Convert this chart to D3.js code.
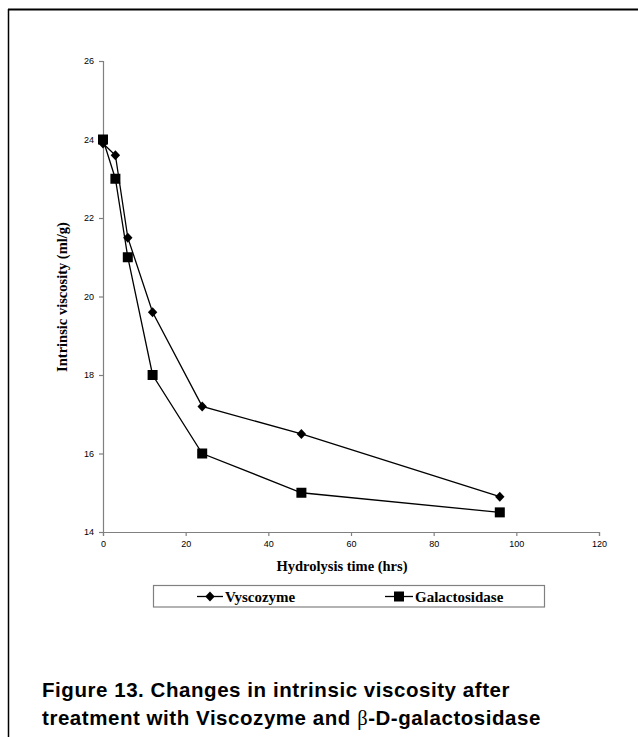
<!DOCTYPE html>
<html><head><meta charset="utf-8">
<script src="https://cdn.jsdelivr.net/npm/d3@7"></script>
<style>body{margin:0;background:#fff}svg{display:block}</style>
</head><body>
<script>
const hours = [0, 3, 6, 12, 24, 48, 96];
const vyscozyme = [23.9, 23.6, 21.5, 19.6, 17.2, 16.5, 14.9];
const galactosidase = [24.0, 23.0, 21.0, 18.0, 16.0, 15.0, 14.5];
const xTicks = [0, 20, 40, 60, 80, 100, 120];
const yTicks = [14, 16, 18, 20, 22, 24, 26];
const seriesNames = ["Vyscozyme", "Galactosidase"];

const W = 638, H = 737;
const svg = d3.select("body").append("svg").attr("width", W).attr("height", H);

// page frame
svg.append("line").attr("x1", 8).attr("x2", W).attr("y1", 9.5).attr("y2", 9.5).attr("stroke", "#000").attr("stroke-width", 2);
svg.append("line").attr("x1", 8.5).attr("x2", 8.5).attr("y1", 9).attr("y2", H).attr("stroke", "#000").attr("stroke-width", 1.5);

const x = d3.scaleLinear().domain([0, 120]).range([103, 599]);
const y = d3.scaleLinear().domain([14, 26]).range([532, 61]);

const xAxis = svg.append("g").attr("transform", "translate(0,532)")
  .call(d3.axisBottom(x).tickValues(xTicks).tickSize(4).tickPadding(5));
const yAxis = svg.append("g").attr("transform", "translate(103,0)")
  .call(d3.axisLeft(y).tickValues(yTicks).tickSize(4).tickPadding(5));
[xAxis, yAxis].forEach(a => {
  a.select(".domain").attr("stroke", "#808080").attr("stroke-width", 1.2);
  a.selectAll(".tick line").attr("stroke", "#808080").attr("stroke-width", 1.2);
  a.selectAll(".tick text").attr("font-family", "Liberation Sans, Arial, sans-serif").attr("font-size", 9).attr("fill", "#000");
});

const line = d3.line().x(d => x(d[0])).y(d => y(d[1]));
const vData = hours.map((h, i) => [h, vyscozyme[i]]);
const gData = hours.map((h, i) => [h, galactosidase[i]]);

svg.append("path").datum(vData).attr("d", line).attr("fill", "none").attr("stroke", "#000").attr("stroke-width", 1.3);
svg.append("path").datum(gData).attr("d", line).attr("fill", "none").attr("stroke", "#000").attr("stroke-width", 1.3);

const dpath = "M0,-5L4.7,0L0,5L-4.7,0Z";
svg.selectAll(".vm").data(vData).enter().append("path")
  .attr("d", dpath).attr("transform", d => `translate(${x(d[0])},${y(d[1])})`).attr("fill", "#000");
svg.selectAll(".gm").data(gData).enter().append("rect")
  .attr("x", d => x(d[0]) - 5).attr("y", d => y(d[1]) - 5).attr("width", 10).attr("height", 10).attr("fill", "#000");

// axis titles
svg.append("text").attr("x", 342).attr("y", 571).attr("text-anchor", "middle")
  .attr("font-family", "Liberation Serif, Times New Roman, serif").attr("font-weight", "bold").attr("font-size", 14.5)
  .text("Hydrolysis time (hrs)");
svg.append("text").attr("transform", "translate(67,297) rotate(-90)").attr("text-anchor", "middle")
  .attr("font-family", "Liberation Serif, Times New Roman, serif").attr("font-weight", "bold").attr("font-size", 14.5)
  .text("Intrinsic viscosity (ml/g)");

// legend
const ly = 596.5;
svg.append("rect").attr("x", 153.5).attr("y", 585.5).attr("width", 391).attr("height", 21.5)
  .attr("fill", "#fff").attr("stroke", "#808080").attr("stroke-width", 1.2);
const leg = [
  {name: seriesNames[0], x1: 197, x2: 223, type: "d", tx: 225},
  {name: seriesNames[1], x1: 385, x2: 413, type: "s", tx: 415}
];
leg.forEach(l => {
  svg.append("line").attr("x1", l.x1).attr("x2", l.x2).attr("y1", ly).attr("y2", ly).attr("stroke", "#000").attr("stroke-width", 1.3);
  const cx = (l.x1 + l.x2) / 2;
  if (l.type === "d") svg.append("path").attr("d", dpath).attr("transform", `translate(${cx},${ly})`).attr("fill", "#000");
  else svg.append("rect").attr("x", cx - 5).attr("y", ly - 5).attr("width", 10).attr("height", 10).attr("fill", "#000");
  svg.append("text").attr("x", l.tx).attr("y", ly + 5)
    .attr("font-family", "Liberation Serif, Times New Roman, serif").attr("font-weight", "bold").attr("font-size", 15)
    .text(l.name);
});

// caption
function captionLine(yPos, parts, target) {
  const t = svg.append("text").attr("x", 42).attr("y", yPos)
    .attr("font-family", "Liberation Sans, Arial, sans-serif").attr("font-weight", "bold").attr("font-size", 20.5).attr("fill", "#000");
  parts.forEach(p => {
    const s = t.append("tspan").text(p.text);
    if (p.greek) s.attr("font-family", "Liberation Serif, Times New Roman, serif").attr("font-weight", "normal");
  });
  const len = t.node().getComputedTextLength();
  const n = parts.reduce((a, p) => a + p.text.length, 0);
  t.attr("letter-spacing", ((target - len) / n).toFixed(3));
}
captionLine(697, [{text: "Figure 13. Changes in intrinsic viscosity after"}], 468);
captionLine(725, [{text: "treatment with Viscozyme and "}, {text: "β", greek: true}, {text: "-D-galactosidase"}], 499);
</script>
</body></html>
